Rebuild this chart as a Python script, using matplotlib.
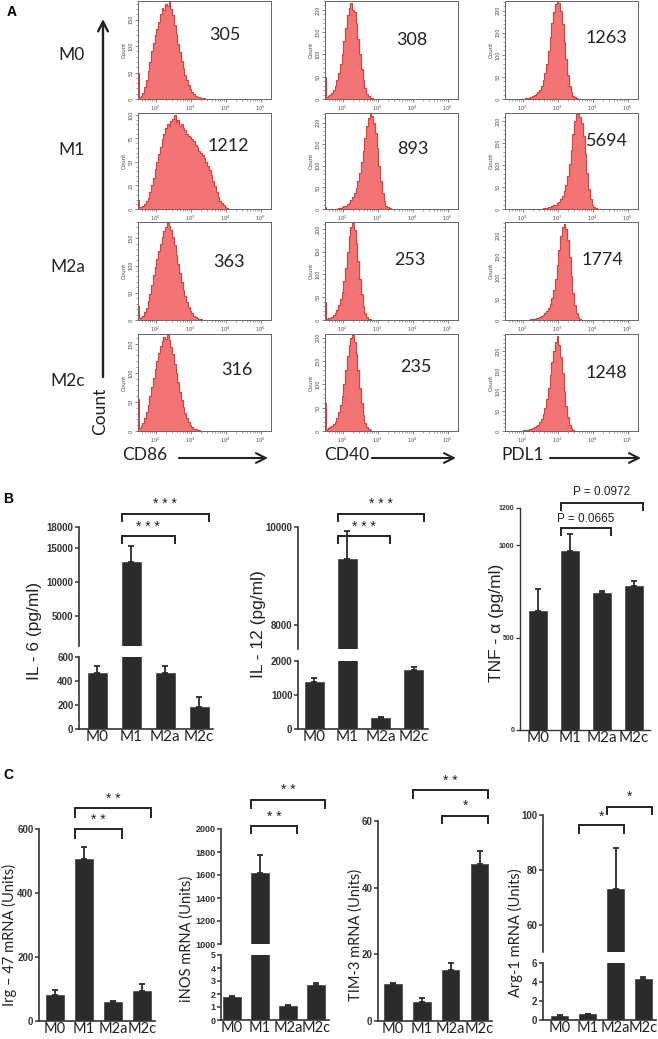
import numpy as np
import matplotlib
matplotlib.use('Agg')
import matplotlib.pyplot as plt
from matplotlib.transforms import blended_transform_factory
from matplotlib.ticker import MultipleLocator, FixedLocator, NullFormatter

# ---------------------------------------------------------------- data
groups = ['M0', 'M1', 'M2a', 'M2c']

# Panel A: flow-cytometry histograms, counts per 0.05-decade bin
bin_step = 0.05
cd86_start = [1.50, 1.50, 1.50, 1.50]
cd86_m0 = [50, 4, 6, 12, 22, 35, 52, 70, 90, 105, 120, 132, 145, 160, 172, 168, 180, 176, 183, 170,
           158, 140, 122, 104, 88, 72, 58, 46, 35, 26, 19, 13, 9, 6, 4, 3, 2, 1, 1]
cd86_m1 = [10, 2, 2, 3, 5, 8, 12, 18, 25, 33, 42, 50, 58, 66, 74, 80, 86, 90, 88, 94, 96, 100, 92,
           95, 88, 90, 86, 84, 80, 78, 76, 74, 72, 68, 66, 62, 60, 57, 54, 50, 46, 41, 36, 30, 24,
           18, 13, 9, 6, 4, 2, 1]
cd86_m2a = [25, 3, 5, 8, 14, 22, 34, 48, 64, 82, 98, 112, 126, 140, 152, 164, 170, 178, 172, 165,
            152, 138, 120, 102, 86, 70, 56, 44, 33, 24, 17, 12, 8, 5, 3, 2, 1]
cd86_m2c = [55, 6, 9, 14, 22, 32, 45, 60, 76, 92, 106, 120, 134, 146, 155, 162, 158, 165, 156, 145,
            132, 116, 100, 84, 68, 54, 42, 31, 22, 15, 10, 7, 4, 3, 2, 1]
cd40_start = [1.50, 1.50, 1.50, 1.50]
cd40_m0 = [50, 4, 6, 9, 14, 20, 30, 42, 58, 78, 102, 130, 160, 188, 205, 215, 200, 195, 170, 135,
           100, 68, 42, 24, 12, 6, 3, 2, 1]
cd40_m1 = [5, 0, 0, 0, 0, 0, 1, 1, 2, 3, 4, 6, 8, 11, 15, 20, 27, 36, 48, 64, 84, 108, 135, 165,
           192, 210, 220, 215, 200, 175, 140, 100, 64, 36, 18, 8, 4, 2, 1]
cd40_m2a = [40, 3, 4, 5, 7, 10, 15, 22, 32, 45, 62, 85, 115, 150, 185, 205, 212, 198, 170, 130,
            90, 56, 30, 15, 7, 3, 2, 1]
cd40_m2c = [60, 5, 6, 8, 10, 14, 20, 28, 40, 55, 75, 100, 130, 160, 185, 200, 205, 190, 165, 130,
            92, 60, 35, 18, 9, 4, 2, 1]
pdl1_start = [1.90, 2.55, 2.20, 2.00]
pdl1_m0 = [1, 1, 1, 1, 2, 2, 3, 4, 6, 8, 11, 15, 21, 30, 42, 58, 80, 108, 140, 172, 198, 215, 220,
           218, 200, 170, 130, 90, 55, 30, 15, 7, 4, 2, 1]
pdl1_m1 = [1, 2, 2, 3, 4, 5, 6, 8, 10, 13, 17, 22, 30, 40, 55, 75, 102, 135, 170, 200, 215, 218,
           210, 195, 165, 125, 82, 46, 22, 10, 4, 2, 1]
pdl1_m2a = [1, 2, 2, 3, 4, 5, 7, 9, 12, 16, 21, 28, 38, 52, 72, 98, 130, 165, 198, 220, 228, 215,
            190, 150, 105, 65, 35, 16, 7, 3, 1]
pdl1_m2c = [1, 2, 2, 3, 4, 5, 7, 9, 12, 16, 22, 30, 42, 58, 80, 108, 140, 172, 200, 222, 238, 215,
            185, 145, 100, 62, 34, 16, 7, 3, 1]
cd86_mfi = [305, 1212, 363, 316]
cd40_mfi = [308, 893, 253, 235]
pdl1_mfi = [1263, 5694, 1774, 1248]
cd86_ymax = [185, 102, 180, 167]
cd40_ymax = [220, 222, 215, 208]
pdl1_ymax = [222, 218, 232, 242]
cd86_tickstep = [50, 25, 50, 50]
cd40_tickstep = [50, 50, 50, 50]
pdl1_tickstep = [50, 50, 50, 50]

# Panel B: cytokines (pg/ml)
il6_mean = [465, 12900, 465, 185]
il6_err = [60, 2300, 60, 85]
il12_mean = [1380, 9340, 320, 1735]
il12_err = [130, 580, 25, 85]
tnf_mean = [643, 968, 741, 778]
tnf_err = [119, 91, 10, 27]

# Panel C: mRNA (units)
irg47_mean = [82, 505, 60, 95]
irg47_err = [15, 38, 4, 20]
inos_mean = [1.8, 1615, 1.1, 2.7]
inos_err = [0.08, 160, 0.05, 0.15]
tim3_mean = [11.2, 5.8, 15.3, 47.0]
tim3_err = [0.2, 1.2, 2.0, 4.0]
arg1_mean = [0.45, 0.65, 73, 4.3]
arg1_err = [0.05, 0.03, 15, 0.2]

# ---------------------------------------------------------------- style
W, H = 658, 1039
fig = plt.figure(figsize=(W / 100, H / 100), dpi=100)
CAL = ['Lato', 'DejaVu Sans']
ARIAL = ['Liberation Sans', 'DejaVu Sans']
NARROW = ['Liberation Sans Narrow', 'Liberation Sans', 'DejaVu Sans']
BAR = '#2b2b2b'
FILL = '#F27474'
EDGE = '#E53935'


def rect(l, t, r, b):
    return [l / W, 1 - b / H, (r - l) / W, (b - t) / H]


def fy(py):
    return 1 - py / H


# ---------------------------------------------------------------- panel A
hist_data = {
    'CD86': (cd86_start, [cd86_m0, cd86_m1, cd86_m2a, cd86_m2c], cd86_mfi, cd86_ymax, cd86_tickstep),
    'CD40': (cd40_start, [cd40_m0, cd40_m1, cd40_m2a, cd40_m2c], cd40_mfi, cd40_ymax, cd40_tickstep),
    'PDL1': (pdl1_start, [pdl1_m0, pdl1_m1, pdl1_m2a, pdl1_m2c], pdl1_mfi, pdl1_ymax, pdl1_tickstep),
}
col_x = {'CD86': (138, 271), 'CD40': (325, 458), 'PDL1': (505, 638)}
row_y = [(1, 99), (113, 209), (222, 320), (334, 431)]
mfi_pos = {
    'CD86': [(0.65, 0.65), (0.68, 0.66), (0.68, 0.59), (0.74, 0.63)],
    'CD40': [(0.65, 0.60), (0.66, 0.63), (0.64, 0.61), (0.68, 0.66)],
    'PDL1': [(0.76, 0.62), (0.77, 0.71), (0.73, 0.61), (0.76, 0.60)],
}

for marker, (starts, hists, mfis, ymaxs, steps) in hist_data.items():
    l, r = col_x[marker]
    for k in range(4):
        t, b = row_y[k]
        ax = fig.add_axes(rect(l, t, r, b))
        counts = np.array(hists[k], dtype=float)
        edges = 10 ** (starts[k] - bin_step / 2 + bin_step * np.arange(len(counts) + 1))
        ax.stairs(counts, edges, fill=True, color=FILL, linewidth=0)
        ax.stairs(counts, edges, color=EDGE, linewidth=0.8)
        ax.set_xscale('log')
        ax.set_xlim(10 ** 1.5, 10 ** 5.3)
        ax.set_ylim(0, ymaxs[k])
        ax.yaxis.set_major_locator(MultipleLocator(steps[k]))
        ax.yaxis.set_minor_locator(MultipleLocator(steps[k] / 5))
        ax.xaxis.set_major_locator(FixedLocator([1e2, 1e3, 1e4, 1e5]))
        ax.xaxis.set_minor_formatter(NullFormatter())
        ax.tick_params(axis='both', which='major', length=2.5, width=0.5, labelsize=3.5,
                       pad=0.8, colors='#555555', labelcolor='#444444')
        ax.tick_params(axis='both', which='minor', length=1.5, width=0.4, colors='#555555')
        for lab in ax.get_yticklabels():
            lab.set_rotation(90)
            lab.set_va('center')
        ax.set_ylabel('Count', fontsize=4, labelpad=1, color='#444444')
        for s in ax.spines.values():
            s.set_linewidth(0.7)
            s.set_color('#666666')
        fx, fyy = mfi_pos[marker][k]
        ax.text(fx, fyy, str(mfis[k]), transform=ax.transAxes, ha='center', va='center',
                fontsize=13, family=CAL, color='#222222')

# ---------------------------------------------------------------- bar helpers


def draw_bars(ax, means, errs, width, ylim):
    x = np.arange(len(means))
    m = np.asarray(means, dtype=float)
    e = np.asarray(errs, dtype=float)
    ax.bar(x, m, width=width, color=BAR, edgecolor=BAR, linewidth=0.4, zorder=2)
    keep = (m >= ylim[0]) & (m <= ylim[1])
    if keep.any():
        ax.errorbar(x[keep], m[keep], yerr=[np.zeros(keep.sum()), e[keep]], fmt='none',
                    ecolor=BAR, elinewidth=1.3, capsize=2.5, capthick=1.3, zorder=3)


def style_y(ax, ticks, fs=7, lw=1.2):
    for s in ['top', 'right']:
        ax.spines[s].set_visible(False)
    for s in ['left', 'bottom']:
        ax.spines[s].set_linewidth(lw)
        ax.spines[s].set_color('#333333')
    ax.set_yticks(ticks, labels=[str(t) for t in ticks], fontsize=fs, fontweight='bold',
                  family=NARROW, color='#333333')
    ax.tick_params(axis='y', length=3, width=lw * 0.9, pad=1, colors='#333333')


def make_panel(xl, xr, segs, means, errs, xlim, width, xfs=11, tick_fs=7, lw=1.2):
    """segs: list of (top_px, bottom_px, ylim, ticks) from top to bottom."""
    axes = []
    for n, (t, b, ylim, ticks) in enumerate(segs):
        ax = fig.add_axes(rect(xl, t, xr, b))
        draw_bars(ax, means, errs, width, ylim)
        ax.set_xlim(*xlim)
        ax.set_ylim(*ylim)
        ax.patch.set_alpha(0)
        style_y(ax, ticks, fs=tick_fs, lw=lw)
        if n < len(segs) - 1:
            ax.spines['bottom'].set_visible(False)
            ax.set_xticks([])
        else:
            ax.set_xticks(range(len(groups)), labels=groups, fontsize=xfs, family=CAL,
                          color='#222222')
            ax.tick_params(axis='x', length=0, pad=1)
        axes.append(ax)
    return axes


def bracket(ax, i, j, w, y_line, y_leg, label, y_text, fs=10, family=None):
    tr = blended_transform_factory(ax.transData, fig.transFigure)
    x1, x2 = i - w / 2, j + w / 2
    ax.plot([x1, x1, x2, x2], [fy(y_leg), fy(y_line), fy(y_line), fy(y_leg)], transform=tr,
            color='#222222', lw=1.4, clip_on=False, solid_joinstyle='miter')
    ax.text((x1 + x2) / 2, fy(y_text), label, transform=tr, ha='center', va='center',
            fontsize=fs, family=family or ARIAL, color='#222222', clip_on=False)


# ---------------------------------------------------------------- panel B
il6 = make_panel(79, 213, [(527, 646, (600, 18000), [5000, 10000, 15000, 18000]),
                           (657, 729, (0, 600), [0, 200, 400, 600])],
                 il6_mean, il6_err, (-0.53, 3.41), 0.56)
bracket(il6[0], 1, 2, 0.56, 536, 543, '* * *', 527)
bracket(il6[0], 1, 3, 0.56, 514, 521, '* * *', 504)

il12 = make_panel(298, 428, [(527, 649, (7500, 10000), [8000, 10000]),
                             (661, 729, (0, 2000), [0, 1000, 2000])],
                  il12_mean, il12_err, (-0.48, 3.42), 0.57)
bracket(il12[0], 1, 2, 0.57, 536, 543, '* * *', 527)
bracket(il12[0], 1, 3, 0.57, 514, 521, '* * *', 504)

tnf = make_panel(520, 650, [(508, 730, (0, 1200), [0, 500, 1000, 1200])],
                 tnf_mean, tnf_err, (-0.56, 3.5), 0.58, tick_fs=5, lw=1.0)
bracket(tnf[0], 1, 2, 0.58, 528, 535, 'P = 0.0665', 519, fs=8.5)
bracket(tnf[0], 1, 3, 0.58, 503, 510, 'P = 0.0972', 492, fs=8.5)

for txt, x, y in [('IL - 6 (pg/ml)', 35, 631), ('IL - 12 (pg/ml)', 259, 624),
                  ('TNF - α (pg/ml)', 497, 623)]:
    fig.text(x / W, fy(y), txt, rotation=90, ha='center', va='center', fontsize=12.5,
             family=ARIAL, color='#222222')

# ---------------------------------------------------------------- panel C
irg = make_panel(39, 155, [(829, 1021, (0, 600), [0, 200, 400, 600])],
                 irg47_mean, irg47_err, (-0.55, 3.45), 0.6, xfs=10.5)
bracket(irg[0], 1, 2, 0.6, 829, 838, '* *', 820)
bracket(irg[0], 1, 3, 0.6, 808, 817, '* *', 799)

inos = make_panel(221, 329, [(829, 944, (1000, 2000), [1000, 1200, 1400, 1600, 1800, 2000]),
                             (955, 1020, (0, 5), [0, 1, 2, 3, 4, 5])],
                  inos_mean, inos_err, (-0.4, 3.47), 0.64, xfs=10.5, tick_fs=6.5)
bracket(inos[0], 1, 2, 0.64, 826, 833, '* *', 817)
bracket(inos[0], 1, 3, 0.64, 800, 808, '* *', 790)

tim3 = make_panel(378, 492, [(821, 1021, (0, 60), [0, 20, 40, 60])],
                  tim3_mean, tim3_err, (-0.52, 3.43), 0.6, xfs=10.5)
bracket(tim3[0], 1, 3, 0.6, 790, 798, '* *', 781)
bracket(tim3[0], 2, 3, 0.6, 816, 823, '*', 806)

arg1 = make_panel(543, 656, [(815, 952, (50, 100), [60, 80, 100]),
                             (963, 1020, (0, 6), [0, 2, 4, 6])],
                  arg1_mean, arg1_err, (-0.6, 3.45), 0.62, xfs=10.5)
bracket(arg1[0], 1, 2, 0.62, 825, 833, '*', 817)
bracket(arg1[0], 2, 3, 0.62, 807, 814, '*', 797)

for txt, x, y in [('Irg – 47 mRNA (Units)', 9, 935), ('iNOS mRNA (Units)', 187, 939),
                  ('TIM-3 mRNA (Units)', 356, 935), ('Arg-1 mRNA (Units)', 515, 933)]:
    fig.text(x / W, fy(y), txt, rotation=90, ha='center', va='center', fontsize=10.5,
             family=CAL, color='#222222')

# ---------------------------------------------------------------- overlay labels
ov = fig.add_axes([0, 0, 1, 1])
ov.set_xlim(0, W)
ov.set_ylim(H, 0)
ov.axis('off')
ov.patch.set_alpha(0)
for lab, x, y in [('A', 12, 12), ('B', 8, 499), ('C', 8, 775)]:
    ov.text(x, y, lab, fontsize=10, fontweight='bold', family=ARIAL, ha='center', va='center')
for lab, x, y in [('M0', 72, 55), ('M1', 72, 150), ('M2a', 68, 267), ('M2c', 68, 381)]:
    ov.text(x, y, lab, fontsize=12.5, family=CAL, ha='center', va='center', color='#222222')
ov.annotate('', xy=(103, 19), xytext=(103, 377),
            arrowprops=dict(arrowstyle='->,head_length=0.7,head_width=0.35', lw=1.7,
                            color='#222222', shrinkA=0, shrinkB=0))
ov.text(100, 411, 'Count', rotation=90, fontsize=12.5, family=CAL, ha='center', va='center',
        color='#222222')
for lab, tx, x0, x1 in [('CD86', 145, 179, 268), ('CD40', 347, 372, 456), ('PDL1', 523, 550, 641)]:
    ov.text(tx, 455, lab, fontsize=12.5, family=CAL, ha='center', va='center', color='#222222')
    ov.annotate('', xy=(x1, 458), xytext=(x0, 458),
                arrowprops=dict(arrowstyle='->,head_length=0.7,head_width=0.35', lw=1.5,
                                color='#222222', shrinkA=0, shrinkB=0))

fig.savefig('out.png', dpi=100)
